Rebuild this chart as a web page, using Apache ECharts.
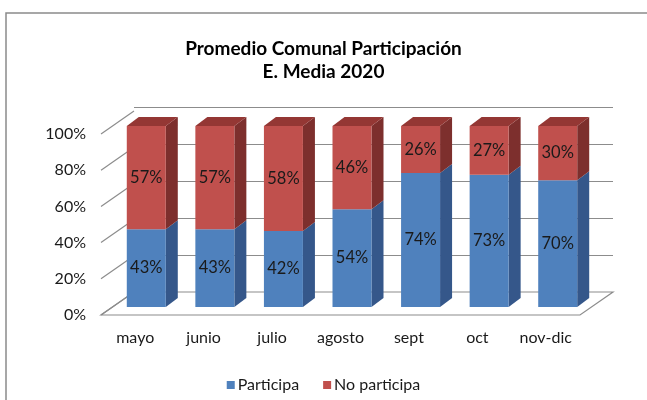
<!DOCTYPE html>
<html><head><meta charset="utf-8">
<script src="https://cdn.jsdelivr.net/npm/echarts@6/dist/echarts.min.js"></script>
<style>html,body{margin:0;padding:0;background:#fff}#c{width:647px;height:400px}</style>
</head><body><div id="c"></div>
<script>
const categories = ['mayo','junio','julio','agosto','sept','oct','nov-dic'];
const participa = [43,43,42,54,74,73,70];
const noParticipa = [57,57,58,46,26,27,30];
const yTicks = [0,20,40,60,80,100];
const seriesNames = ['Participa','No participa'];

const FONT = 'Lato';
const colors = {
  blue: {front:'#4F81BD', side:'#35578A', top:'#4575AE'},
  red: {front:'#C0504D', side:'#7D2F2D', top:'#943734'}
};
const BAR_DX = 12, BAR_DY = -9, BAR_W = 39;
const WALL_DX = 33, WALL_DY = -23;

function barRender(pal, drawTop) {
  return function(params, api) {
    const i = api.value(0), base = api.value(1), val = api.value(2);
    const p0 = api.coord([i, base]);
    const p1 = api.coord([i, base + val]);
    const x0 = p0[0] - BAR_W/2, x1 = p0[0] + BAR_W/2;
    const yb = p0[1], yt = p1[1];
    const children = [
      {type:'polygon', shape:{points:[[x1,yb],[x1+BAR_DX,yb+BAR_DY],[x1+BAR_DX,yt+BAR_DY],[x1,yt]]}, style:{fill:pal.side}},
      {type:'rect', shape:{x:x0, y:yt, width:BAR_W, height:yb-yt}, style:{fill:pal.front}},
      {type:'text', style:{text: val + '%', x:(x0+x1)/2, y:(yb+yt)/2, align:'center', verticalAlign:'middle', fontFamily:FONT, fontSize:16.5, fill:'#1a1a1a'}}
    ];
    if (drawTop) {
      children.splice(1,0,{type:'polygon', shape:{points:[[x0,yt],[x0+BAR_DX,yt+BAR_DY],[x1+BAR_DX,yt+BAR_DY],[x1,yt]]}, style:{fill:pal.top}});
    }
    return {type:'group', children};
  };
}

function wallRender(params, api) {
  const children = [];
  const n = categories.length;
  const band = api.size([1,0])[0];
  const xl = api.coord([0,0])[0] - band/2;
  const xr = api.coord([n-1,0])[0] + band/2;
  yTicks.forEach(t => {
    const y = api.coord([0, t])[1];
    children.push({type:'line', shape:{x1:xl, y1:y, x2:xl+WALL_DX, y2:y+WALL_DY}, style:{stroke:'#8c8c8c', lineWidth:1.2}});
  });
  const y0 = api.coord([0,0])[1];
  children.unshift({type:'polygon', shape:{points:[[xl,y0],[xr,y0],[xr+WALL_DX,y0+WALL_DY],[xl+WALL_DX,y0+WALL_DY]]}, style:{fill:'#fff', stroke:'#8c8c8c', lineWidth:1.2}});
  return {type:'group', children};
}

const blueData = participa.map((v,i)=>[i,0,v]);
const redData = noParticipa.map((v,i)=>[i,participa[i],v]);

const chart = echarts.init(document.getElementById('c'), null, {renderer:'canvas'});
chart.setOption({
  animation:false,
  textStyle:{fontFamily:FONT},
  graphic:[{type:'rect', shape:{x:6, y:13, width:660, height:400}, style:{fill:'none', stroke:'#8a8a8a', lineWidth:1.5}, z:-10}],
  title:{text:'Promedio Comunal Participación\nE. Media 2020', left:'center', top:32,
    textStyle:{fontFamily:FONT, fontSize:19, fontWeight:'bold', color:'#000', lineHeight:23}},
  legend:{data:seriesNames, top:372, left:'center', icon:'rect', itemWidth:8, itemHeight:8, itemGap:24,
    textStyle:{fontFamily:FONT, fontSize:16, color:'#1a1a1a', padding:[0,0,0,-2]}},
  grid:[
    {left:101, right:67, top:134, height:181},
    {left:134, right:34, top:107, height:185},
    {left:112, right:55, top:126, height:181}
  ],
  xAxis:[
    {gridIndex:0, type:'category', data:categories, axisLine:{show:false}, axisTick:{show:false},
      axisLabel:{fontFamily:FONT, fontSize:16, color:'#1a1a1a', margin:15}},
    {gridIndex:1, type:'category', data:categories, show:false},
    {gridIndex:2, type:'category', data:categories, show:false}
  ],
  yAxis:[
    {gridIndex:0, type:'value', min:0, max:100, interval:20, axisLine:{show:false}, axisTick:{show:false}, splitLine:{show:false},
      axisLabel:{formatter:'{value}%', fontFamily:FONT, fontSize:16, color:'#1a1a1a', margin:15}},
    {gridIndex:1, type:'value', min:0, max:100, interval:20, axisLine:{show:false}, axisTick:{show:false}, axisLabel:{show:false},
      splitLine:{show:true, lineStyle:{color:'#8c8c8c', width:1.2}}},
    {gridIndex:2, type:'value', min:0, max:100, interval:20, show:false}
  ],
  series:[
    {type:'custom', name:'_walls', xAxisIndex:0, yAxisIndex:0, data:[[0,0]], renderItem:wallRender, z:1, silent:true},
    {type:'custom', name:seriesNames[0], xAxisIndex:2, yAxisIndex:2, data:blueData, renderItem:barRender(colors.blue,false), itemStyle:{color:colors.blue.front}, z:3},
    {type:'custom', name:seriesNames[1], xAxisIndex:2, yAxisIndex:2, data:redData, renderItem:barRender(colors.red,true), itemStyle:{color:colors.red.front}, z:3}
  ]
});
</script></body></html>
